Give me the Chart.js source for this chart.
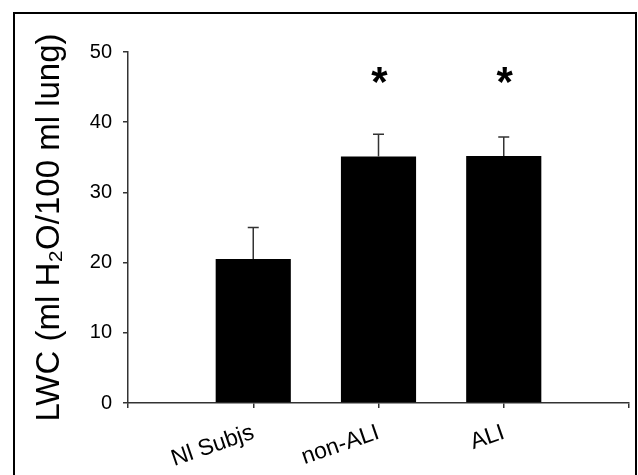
<!DOCTYPE html>
<html>
<head>
<meta charset="utf-8">
<script src="https://cdn.jsdelivr.net/npm/chart.js@4.4.1/dist/chart.umd.min.js"></script>
<style>
  html, body { margin: 0; padding: 0; background: #fff; }
  #wrap { width: 638px; height: 475px; position: relative; }
</style>
</head>
<body>
<div id="wrap"><canvas id="c" width="638" height="475"></canvas></div>
<script>
// ---- data ----
const categories = ['Nl Subjs', 'non-ALI', 'ALI'];
const lwcMeans = [20.5, 35.1, 35.2];
const lwcErrors = [4.5, 3.2, 2.7];
const sigMarks = ['', '*', '*'];
const sigLevel = 46.4;
const yTickValues = [0, 10, 20, 30, 40, 50];
const yAxisTitle = 'LWC (ml H\u2082O/100 ml lung)';

// pad with empty slots at both ends so the axis runs one step beyond the outer bars
const axisLabels = [''].concat(categories, ['']);
const axisValues = [null].concat(lwcMeans, [null]);
const axisErrors = [null].concat(lwcErrors, [null]);
const axisMarks = [''].concat(sigMarks, ['']);

const framePlugin = {
  id: 'frame',
  beforeDraw(chart) {
    const ctx = chart.ctx;
    ctx.save();
    ctx.fillStyle = '#fff';
    ctx.fillRect(0, 0, chart.width, chart.height);
    ctx.strokeStyle = '#000';
    ctx.lineWidth = 2;
    ctx.strokeRect(14, 13, 622, 480);
    ctx.restore();
  }
};

const errorBarPlugin = {
  id: 'errorBars',
  afterDatasetsDraw(chart) {
    const ctx = chart.ctx;
    const meta = chart.getDatasetMeta(0);
    const y = chart.scales.y;
    ctx.save();
    ctx.strokeStyle = '#333';
    ctx.lineWidth = 1.5;
    meta.data.forEach((bar, i) => {
      const v = axisValues[i], e = axisErrors[i];
      if (v == null || e == null) return;
      const x = bar.x;
      const yTop = y.getPixelForValue(v + e);
      const yBase = y.getPixelForValue(v);
      ctx.beginPath();
      ctx.moveTo(x, yBase);
      ctx.lineTo(x, yTop);
      ctx.moveTo(x - 5.5, yTop);
      ctx.lineTo(x + 5.5, yTop);
      ctx.stroke();
    });
    // significance marks
    ctx.fillStyle = '#000';
    ctx.font = 'bold 42px "Liberation Sans", Arial, sans-serif';
    ctx.textAlign = 'center';
    ctx.textBaseline = 'middle';
    meta.data.forEach((bar, i) => {
      const m = axisMarks[i];
      if (!m) return;
      ctx.fillText(m, bar.x + 1, y.getPixelForValue(sigLevel) + 7);
    });
    ctx.restore();
  }
};

new Chart(document.getElementById('c'), {
  type: 'bar',
  data: {
    labels: axisLabels,
    datasets: [{
      data: axisValues,
      backgroundColor: '#000',
      borderColor: '#222',
      borderWidth: 0,
      barPercentage: 1.0,
      categoryPercentage: 0.6
    }]
  },
  options: {
    responsive: false,
    animation: false,
    events: [],
    layout: { padding: { left: 0, right: 9, top: 52, bottom: 0 } },
    plugins: {
      legend: { display: false },
      tooltip: { enabled: false }
    },
    scales: {
      x: {
        offset: false,
        grid: { display: true, offset: false, drawOnChartArea: false, drawTicks: true, tickLength: 5, color: '#333', lineWidth: 1.5 },
        border: { display: true, color: '#333', width: 1.5 },
        ticks: {
          autoSkip: false,
          minRotation: 19,
          maxRotation: 19,
          padding: 11,
          color: '#000',
          font: { family: '"Liberation Sans", Arial, sans-serif', size: 23 }
        },
        afterFit(scale) {
          scale.height = 72;
          scale.paddingLeft = 0;
          scale.paddingRight = 0;
        }
      },
      y: {
        min: 0,
        max: 50,
        afterBuildTicks(scale) { scale.ticks = yTickValues.map(v => ({ value: v })); },
        grid: { display: true, drawOnChartArea: false, drawTicks: true, tickLength: 5, color: '#333', lineWidth: 1.5 },
        border: { display: true, color: '#333', width: 1.5 },
        ticks: {
          padding: 11,
          color: '#000',
          font: { family: '"Liberation Sans", Arial, sans-serif', size: 20 }
        },
        title: {
          display: true,
          text: yAxisTitle,
          color: '#000',
          padding: { top: 30, bottom: 0 },
          font: { family: '"Liberation Sans", Arial, sans-serif', size: 33 }
        },
        afterFit(scale) { scale.width = 128; }
      }
    }
  },
  plugins: [framePlugin, errorBarPlugin]
});
</script>
</body>
</html>
